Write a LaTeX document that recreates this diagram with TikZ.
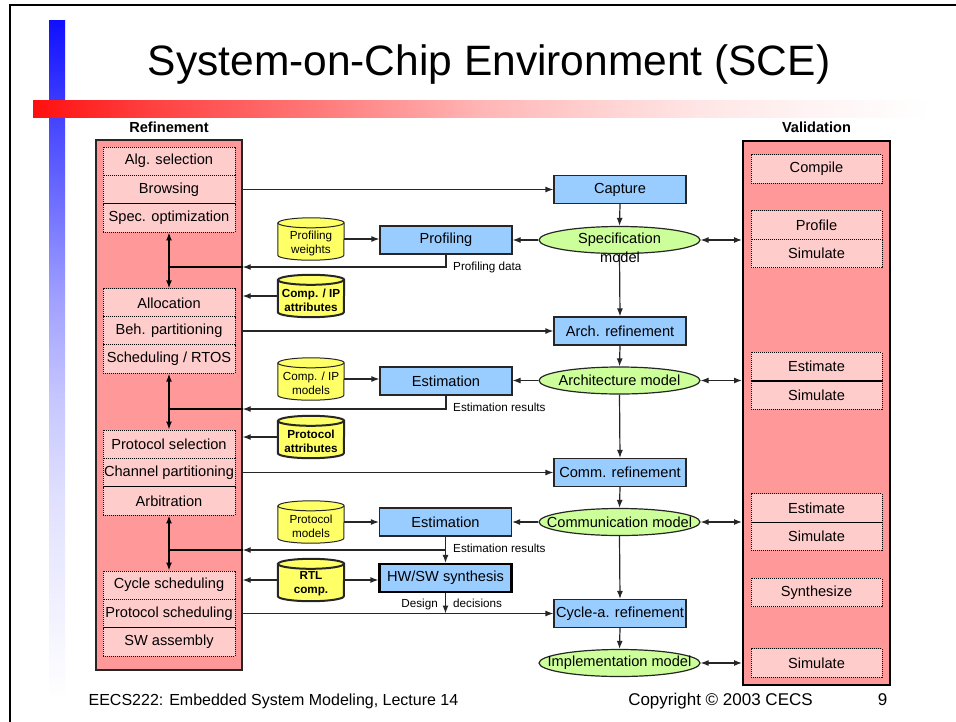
\documentclass[tikz,border=0pt]{standalone}
\usepackage{fontspec}
\setmainfont{Liberation Sans}
\usetikzlibrary{shapes.geometric,arrows.meta,calc}

\definecolor{colred}{HTML}{FF9999}
\definecolor{rowpink}{HTML}{FFCCCC}
\definecolor{stepblue}{HTML}{99CCFF}
\definecolor{modelgreen}{HTML}{CCFF99}
\definecolor{dbyellow}{HTML}{FFFF66}

% vertical blue bar: fades from blue (top) to white (bottom)
\pgfdeclareverticalshading{bluefade}{100bp}{%
  rgb(0bp)=(1,1,1); rgb(25bp)=(1,1,1); rgb(32.35bp)=(0.94,0.94,1);
  rgb(39.7bp)=(0.88,0.88,1); rgb(47.06bp)=(0.78,0.78,1);
  rgb(54.4bp)=(0.63,0.63,1); rgb(66.2bp)=(0.31,0.31,1);
  rgb(75bp)=(0.06,0.06,1); rgb(100bp)=(0.06,0.06,1)}
% horizontal red bar: fades from red (left) to white (right)
\pgfdeclarehorizontalshading{redfade}{100bp}{%
  rgb(0bp)=(1,0.06,0.06); rgb(25bp)=(1,0.06,0.06); rgb(31.5bp)=(1,0.25,0.25);
  rgb(39.9bp)=(1,0.45,0.45); rgb(49.9bp)=(1,0.71,0.71);
  rgb(56.6bp)=(1,0.82,0.82); rgb(62.2bp)=(1,0.9,0.9);
  rgb(67.8bp)=(1,0.95,0.95); rgb(75bp)=(1,1,1); rgb(100bp)=(1,1,1)}

\newcommand{\lblsz}{\fontsize{14.6}{16}\selectfont}
\newcommand{\notesz}{\fontsize{11.7}{14}\selectfont}

% database drum drawn around a 66x42 node: #1 node name, #2 line width
\newcommand{\dbshape}[2]{%
  \path[fill=dbyellow,draw=black!85,line width=#2]
    ([yshift=-5pt]#1.north west) -- ([yshift=5pt]#1.south west)
    arc[start angle=180,end angle=360,x radius=33pt,y radius=5pt]
    -- ([yshift=-5pt]#1.north east)
    arc[start angle=0,end angle=180,x radius=33pt,y radius=5pt] -- cycle;
  \draw[draw=black!85,line width=#2] ([yshift=-5pt]#1.north west)
    arc[start angle=180,end angle=360,x radius=33pt,y radius=5pt];
}

\begin{document}
\begin{tikzpicture}[x=1pt,y=-1pt,
  >={Latex[length=8pt,width=6pt]},
  colbox/.style={draw=black!85,line width=1.3,fill=colred,inner sep=0},
  rowbox/.style={draw=black,dash pattern=on 1pt off 1pt,line width=0.9,
    fill=rowpink,minimum width=132,minimum height=28.33,inner sep=0,font=\lblsz},
  stepbox/.style={draw=black!85,line width=1.2,fill=stepblue,minimum width=132,
    minimum height=28,inner sep=0,font=\lblsz},
  model/.style={ellipse,draw=black!85,line width=1.2,fill=modelgreen,
    minimum width=161,minimum height=27,inner sep=0,font=\lblsz},
  dbbox/.style={rectangle,minimum width=66,minimum height=42,inner sep=0},
  dbtext/.style={inner sep=0,align=center,font=\notesz},
  dbtextbold/.style={dbtext,font=\notesz\bfseries},
  link/.style={line width=1.2,draw=black!85},
  junction/.style={line width=1.8,draw=black},
  note/.style={inner sep=0,font=\notesz},
]
\useasboundingbox (0,0) rectangle (956,721);
\clip (0,0) rectangle (956,721);

% slide frame and decoration bars
\draw[line width=2] (10,5) rectangle (966,731);
\shade[shading=bluefade] (49,20) rectangle (65,700);
\shade[shading=redfade] (33,100) rectangle (930,117);

\node[anchor=base,inner sep=0,font=\fontsize{42.5}{48}\selectfont] (title) at (489,75)
  {System-on-Chip Environment (SCE)};

% column headers
\node[anchor=base,inner sep=0,font=\lblsz\bfseries] (refhead) at (169,132) {Refinement};
\node[anchor=base,inner sep=0,font=\lblsz\bfseries] (valhead) at (816.5,132) {Validation};

% refinement column
\node[colbox,minimum width=146,minimum height=530] (L) at (169,405) {};
\node[rowbox] (alg)    at (169,161.2) {Alg. selection};
\node[rowbox] (brows)  at (169,189.5) {Browsing};
\node[rowbox] (specop) at (169,217.8) {Spec. optimization};
\node[rowbox] (alloc)  at (169,303) {Allocation};
\node[rowbox] (behp)   at (169,331) {Beh. partitioning};
\node[rowbox] (sched)  at (169,359) {Scheduling / RTOS};
\node[rowbox] (protsel) at (169,444.2) {Protocol selection};
\node[rowbox] (chanp)  at (169,472.5) {Channel partitioning};
\node[rowbox] (arbit)  at (169,500.8) {Arbitration};
\node[rowbox] (cycs)   at (169,585.2) {Cycle scheduling};
\node[rowbox] (prots)  at (169,613.5) {Protocol scheduling};
\node[rowbox] (swasm)  at (169,641.8) {SW assembly};

% validation column
\node[colbox,line width=2,draw=black,minimum width=147,minimum height=544] (V) at (816.5,413) {};
\node[rowbox,minimum width=131] (vcomp) at (816.5,169) {Compile};
\node[rowbox,minimum width=131] (vprof) at (816.5,225) {Profile};
\node[rowbox,minimum width=131] (vsima) at (816.5,253.5) {Simulate};
\node[rowbox,minimum width=131] (vesta) at (816.5,366.5) {Estimate};
\node[rowbox,minimum width=131] (vsimb) at (816.5,395) {Simulate};
\node[rowbox,minimum width=131] (vestb) at (816.5,508) {Estimate};
\node[rowbox,minimum width=131] (vsimc) at (816.5,536.3) {Simulate};
\node[rowbox,minimum width=131] (vsyn)  at (816.5,592.5) {Synthesize};
\node[rowbox,minimum width=131] (vsimd) at (816.5,663) {Simulate};
\draw[line width=1.6] (vesta.south west) -- (vesta.south east);
\draw[line width=1.6] (vestb.south west) -- (vestb.south east);

% main flow
\node[stepbox] (cap)   at (620,189.5) {Capture};
\node[model]   (spec)  at (619.5,240) {\makebox[0pt]{Specification}};
\node[anchor=base,inner sep=0,font=\lblsz] (specm) at (620,262) {model};
\node[stepbox] (archr) at (620,331) {Arch. refinement};
\node[model]   (archm) at (619.5,380.5) {\makebox[0pt]{Architecture model}};
\node[stepbox] (commr) at (620,472.5) {Comm. refinement};
\node[model]   (commm) at (619.5,522) {\makebox[0pt]{Communication model}};
\node[stepbox] (cycr)  at (620,613.5) {Cycle-a. refinement};
\node[model]   (implm) at (619.5,663) {\makebox[0pt]{Implementation model}};

% analysis tools
\node[stepbox] (prof) at (446,240) {Profiling};
\node[stepbox] (esta) at (446,381) {Estimation};
\node[stepbox] (estb) at (445.5,522) {Estimation};
\node[stepbox,line width=2.2,draw=black] (hwsw) at (445.5,578) {HW/SW synthesis};

% databases
\node[dbbox] (pw)  at (311,239) {};
\node[dbbox] (cia) at (311,296) {};
\node[dbbox] (cim) at (311,379) {};
\node[dbbox] (pa)  at (311,437) {};
\node[dbbox] (pm)  at (311,522) {};
\node[dbbox] (rtl) at (311,580) {};
\dbshape{pw}{1}
\dbshape{cia}{2}
\dbshape{cim}{1}
\dbshape{pa}{2}
\dbshape{pm}{1}
\dbshape{rtl}{2}
\node[dbtext]     (pwt)  at ([yshift=-4pt]pw.center)  {Profiling\\weights};
\node[dbtextbold] (ciat) at ([yshift=-4pt]cia.center) {Comp. / IP\\attributes};
\node[dbtext]     (cimt) at ([yshift=-4pt]cim.center) {Comp. / IP\\models};
\node[dbtextbold] (pat)  at ([yshift=-4pt]pa.center)  {Protocol\\attributes};
\node[dbtext]     (pmt)  at ([yshift=-4pt]pm.center)  {Protocol\\models};
\node[dbtextbold] (rtlt) at ([yshift=-4pt]rtl.center) {RTL\\comp.};

% refinement column feeds the refinement steps
\draw[link,->] (L.east |- cap.west) -- (cap.west);
\draw[link,->] (L.east |- archr.west) -- (archr.west);
\draw[link,->] (L.east |- commr.west) -- (commr.west);
\draw[link,->] (L.east |- cycr.west) -- (cycr.west);

% vertical flow
\draw[link,->] (cap.south) -- (spec.north);
\draw[link,->] (spec.south) -- (archr.north);
\draw[link,->] (archr.south) -- (archm.north);
\draw[link,->] (archm.south) -- (commr.north);
\draw[link,->] (commr.south) -- (commm.north);
\draw[link,->] (commm.south) -- (cycr.north);
\draw[link,->] (cycr.south) -- (implm.north);

% models to analysis tools
\draw[link,->] (spec.west) -- (spec.west -| prof.east);
\draw[link,->] (archm.west) -- (archm.west -| esta.east);
\draw[link,->] (commm.west) -- (commm.west -| estb.east);

% models to validation
\draw[link,<->] (spec.east) -- (spec.east -| V.west);
\draw[link,<->] (archm.east) -- (archm.east -| V.west);
\draw[link,<->] (commm.east) -- (commm.east -| V.west);
\draw[link,<->] (implm.east) -- (implm.east -| V.west);

% databases to tools and columns
\draw[link,->] (pw.east) -- (pw.east -| prof.west);
\draw[link,->] (cim.east) -- (cim.east -| esta.west);
\draw[link,->] (pm.east) -- (pm.east -| estb.west);
\draw[link,->] (rtl.east) -- (rtl.east -| hwsw.west);
\draw[link,->] (cia.west) -- (cia.west -| L.east);
\draw[link,->] (pa.west) -- (pa.west -| L.east);
\draw[link,->] (rtl.west) -- (rtl.west -| L.east);

% feedback from profiling / estimation
\coordinate (fb1) at (446,267);
\coordinate (fb2) at (446,409);
\coordinate (fb3) at (445.5,550);
\draw[link,->] (prof.south) |- (L.east |- fb1);
\draw[link,->] (esta.south) |- (L.east |- fb2);
\draw[link,->] (estb.south) -- (hwsw.north);
\draw[link,->] (fb3) -- (L.east |- fb3);
\draw[junction] (L.east |- fb1) -- (specop.south |- fb1);
\draw[junction] (L.east |- fb2) -- (sched.south |- fb2);
\draw[junction] (L.east |- fb3) -- (arbit.south |- fb3);
\draw[junction,<->] (specop.south) -- (alloc.north);
\draw[junction,<->] (sched.south) -- (protsel.north);
\draw[junction,<->] (arbit.south) -- (cycs.north);
\draw[link,->] (hwsw.south) -- (hwsw.south |- cycr.west);

\node[note,anchor=base west] (pdl)  at (453,270) {Profiling data};
\node[note,anchor=base west] (era)  at (453,411) {Estimation results};
\node[note,anchor=base west] (erb)  at (453,552) {Estimation results};
\node[note,anchor=base east] (desl) at (438,607) {Design};
\node[note,anchor=base west] (decl) at (453,607) {decisions};

% footer
\node[anchor=base,inner sep=0,font=\fontsize{16}{18}\selectfont] (foot) at (273.5,705)
  {EECS222: Embedded System Modeling, Lecture 14};
\node[anchor=base,inner sep=0,font=\fontsize{17}{19}\selectfont] (copy) at (720.5,705)
  {Copyright © 2003 CECS};
\node[anchor=base,inner sep=0,font=\fontsize{17}{19}\selectfont] (pg) at (882.5,705) {9};
\end{tikzpicture}
\end{document}
